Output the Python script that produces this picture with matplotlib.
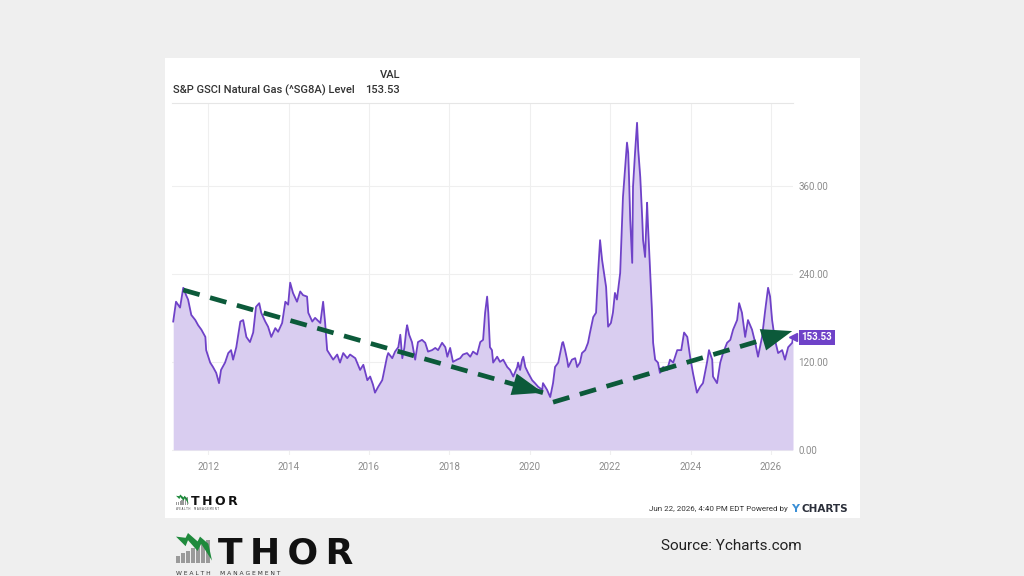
import matplotlib
matplotlib.use("Agg")
import matplotlib.pyplot as plt
from matplotlib.patches import Rectangle, Polygon

plt.rcParams["font.family"] = ["Roboto", "DejaVu Sans"]

# S&P GSCI Natural Gas index level (decimal years)
years = [
    2011.13, 2011.20, 2011.30, 2011.38, 2011.45, 2011.50, 2011.58, 2011.68, 2011.75, 2011.83,
    2011.93, 2011.95, 2012.05, 2012.12, 2012.20, 2012.27, 2012.32, 2012.42, 2012.50, 2012.57,
    2012.62, 2012.70, 2012.80, 2012.87, 2012.95, 2013.04, 2013.12, 2013.19, 2013.27, 2013.32,
    2013.42, 2013.49, 2013.57, 2013.67, 2013.74, 2013.84, 2013.92, 2013.99, 2014.04, 2014.11,
    2014.21, 2014.29, 2014.36, 2014.46, 2014.49, 2014.59, 2014.66, 2014.79, 2014.86, 2014.91,
    2014.96, 2015.03, 2015.11, 2015.21, 2015.28, 2015.36, 2015.46, 2015.53, 2015.66, 2015.78,
    2015.86, 2015.96, 2016.03, 2016.10, 2016.15, 2016.23, 2016.33, 2016.35, 2016.45, 2016.48,
    2016.58, 2016.65, 2016.73, 2016.78, 2016.83, 2016.88, 2016.93, 2016.95, 2017.00, 2017.07,
    2017.15, 2017.22, 2017.32, 2017.40, 2017.47, 2017.57, 2017.65, 2017.72, 2017.82, 2017.90,
    2017.95, 2018.02, 2018.09, 2018.19, 2018.27, 2018.34, 2018.44, 2018.52, 2018.59, 2018.69,
    2018.77, 2018.84, 2018.89, 2018.94, 2018.97, 2019.01, 2019.06, 2019.09, 2019.19, 2019.26,
    2019.34, 2019.44, 2019.51, 2019.59, 2019.69, 2019.71, 2019.76, 2019.81, 2019.84, 2019.89,
    2019.96, 2020.06, 2020.13, 2020.21, 2020.31, 2020.33, 2020.43, 2020.51, 2020.58, 2020.63,
    2020.71, 2020.81, 2020.83, 2020.88, 2020.93, 2020.96, 2021.05, 2021.13, 2021.18, 2021.25,
    2021.30, 2021.38, 2021.45, 2021.50, 2021.58, 2021.65, 2021.70, 2021.75, 2021.80, 2021.85,
    2021.90, 2021.95, 2022.02, 2022.07, 2022.12, 2022.17, 2022.25, 2022.30, 2022.32, 2022.37,
    2022.42, 2022.45, 2022.47, 2022.50, 2022.55, 2022.57, 2022.62, 2022.67, 2022.70, 2022.75,
    2022.80, 2022.82, 2022.87, 2022.92, 2022.94, 2022.99, 2023.04, 2023.07, 2023.12, 2023.19,
    2023.24, 2023.32, 2023.42, 2023.49, 2023.57, 2023.67, 2023.77, 2023.84, 2023.92, 2023.99,
    2024.06, 2024.16, 2024.24, 2024.31, 2024.41, 2024.46, 2024.54, 2024.56, 2024.66, 2024.74,
    2024.81, 2024.91, 2024.99, 2025.06, 2025.16, 2025.21, 2025.28, 2025.36, 2025.43, 2025.53,
    2025.61, 2025.68, 2025.78, 2025.86, 2025.93, 2025.98, 2026.03, 2026.10, 2026.18, 2026.28,
    2026.35, 2026.43, 2026.53, 2026.55,
]
levels = [
    175, 202, 194, 221, 211, 205, 184, 177, 170, 164,
    154, 136, 119, 113, 105, 91, 109, 119, 132, 136,
    123, 140, 175, 177, 154, 147, 160, 195, 200, 187,
    175, 168, 154, 166, 161, 173, 202, 198, 228, 214,
    202, 216, 211, 209, 187, 175, 180, 173, 202, 173,
    136, 130, 123, 130, 119, 132, 125, 130, 125, 109,
    116, 95, 100, 89, 78, 86, 95, 100, 127, 132,
    125, 134, 140, 157, 125, 139, 164, 170, 157, 147,
    123, 147, 150, 146, 134, 136, 139, 136, 146, 140,
    127, 139, 120, 123, 125, 130, 132, 127, 134, 130,
    147, 150, 187, 209, 187, 140, 136, 119, 127, 120,
    123, 113, 109, 100, 113, 119, 109, 123, 127, 113,
    105, 95, 91, 86, 82, 91, 82, 72, 91, 113,
    119, 146, 147, 136, 123, 113, 123, 125, 113, 119,
    132, 136, 146, 160, 181, 187, 241, 286, 259, 241,
    222, 168, 173, 187, 214, 205, 241, 318, 345, 382,
    419, 405, 372, 314, 255, 359, 405, 446, 409, 372,
    314, 286, 263, 337, 309, 250, 191, 146, 123, 119,
    105, 113, 109, 123, 119, 136, 136, 160, 154, 127,
    105, 78, 86, 91, 119, 136, 123, 100, 91, 119,
    132, 146, 150, 164, 177, 200, 187, 154, 177, 164,
    146, 127, 154, 191, 221, 209, 177, 150, 132, 136,
    123, 140, 146, 153.53,
]
last_value = 153.53
tick_years = [2012, 2014, 2016, 2018, 2020, 2022, 2024, 2026]
tick_levels = [0, 120, 240, 360]

# trend arrows drawn on top of the chart (year, level)
trend_down = [(2011.38, 218), (2020.33, 78)]
trend_up = [(2020.58, 65), (2026.53, 162)]

W, H = 1024, 576
def fx(px):
    return px / W
def fy(py):
    return 1 - py / H

purple = "#6f42c8"
fill = "#d9cdf0"
green = "#0c5a3a"
grey_txt = "#8c8c8c"

fig = plt.figure(figsize=(10.24, 5.76), dpi=100, facecolor="#efefef")

# white chart panel (behind the axes)
fig.patches.append(Rectangle((fx(165), fy(518)), fx(860) - fx(165), fy(58) - fy(518),
                             transform=fig.transFigure, facecolor="white", edgecolor="none", zorder=-5))

ax = fig.add_axes([fx(172), fy(455), fx(793) - fx(172), fy(103) - fy(455)])
ax.set_facecolor("white")
ax.fill_between(years, levels, 0, color=fill, lw=0, zorder=2)
ax.plot(years, levels, color=purple, lw=1.3, zorder=3)

ax.set_xlim(2011.10, 2026.55)
ax.set_ylim(-7, 473)
ax.set_xticks(tick_years)
ax.set_xticklabels([str(y) for y in tick_years])
ax.set_yticks(tick_levels)
ax.set_yticklabels([f"{v:.2f}" for v in tick_levels])
ax.yaxis.tick_right()
ax.tick_params(length=0, labelsize=7, colors=grey_txt)
ax.tick_params(axis="y", pad=4)
ax.tick_params(axis="x", pad=5)
ax.grid(color="#efefef", lw=0.8, zorder=1)
for side in ["left", "right", "bottom"]:
    ax.spines[side].set_visible(False)
ax.spines["top"].set_color("#e6e6e6")
ax.spines["top"].set_linewidth(0.8)

# trend arrows
for (x0, y0), (x1, y1) in [trend_down, trend_up]:
    ax.plot([x0, x1], [y0, y1], color=green, lw=3.4, linestyle=(0, (3.6, 2.3)),
            solid_capstyle="butt", zorder=5, clip_on=False)
    ax.annotate("", xy=(x1, y1), xytext=(x0, y0),
                arrowprops=dict(arrowstyle="-|>,head_length=2.2,head_width=0.8",
                                mutation_scale=10, lw=0, fc=green, ec="none",
                                shrinkA=0, shrinkB=0), zorder=6)

# last value tag
ax.plot([2026.55], [last_value], marker="<", ms=6, color=purple, clip_on=False, zorder=7)
ax.annotate(f"{last_value:.2f}", xy=(1, last_value), xycoords=("axes fraction", "data"),
            xytext=(6, 0), textcoords="offset points", va="center", ha="left",
            fontsize=7, fontweight="bold", color="white", zorder=8,
            bbox=dict(boxstyle="square,pad=0.25", fc=purple, ec="none"))

# header
fig.text(fx(173), fy(90), "S&P GSCI Natural Gas (^SG8A) Level", fontsize=8, color="#333333",
         ha="left", va="center", fontweight="medium")
fig.text(fx(400), fy(75), "VAL", fontsize=8, color="#333333", ha="right", va="center", fontweight="medium")
fig.text(fx(400), fy(90), f"{last_value:.2f}", fontsize=8, color="#333333", ha="right", va="center",
         fontweight="medium")

# footer inside panel
fig.text(fx(788), fy(509), "Jun 22, 2026, 4:40 PM EDT Powered by", fontsize=5.8, color="#333333",
         ha="right", va="center")
fig.text(fx(791), fy(509), "Y", fontsize=8, color="#3a8fd6", ha="left", va="center",
         fontweight="bold", family="DejaVu Sans")
fig.text(fx(802), fy(509), "CHARTS", fontsize=7.5, color="#2b2f3a", ha="left", va="center",
         fontweight="bold", family="DejaVu Sans")


def logo(x0, y0, scale, text_size, sub_size, sub_y):
    # grey bars with a green zigzag, then the word mark
    bar_w = 3.0 * scale
    for i in range(7):
        h = (6 + 2.2 * i) * scale
        fig.patches.append(Rectangle((fx(x0 + i * (bar_w + 1.2 * scale)), fy(y0)), bar_w / W, h / H,
                                     transform=fig.transFigure, fc="#9a9a9a", ec="none"))
    pts = [(0, 12), (8, 4), (10, 9), (18, 0), (21, 6), (30, -8), (27, 6), (20, 12), (18, 8), (10, 15), (8, 11)]
    poly = [(fx(x0 + px * scale), fy(y0 - 10 * scale - py * scale)) for px, py in pts]
    fig.patches.append(Polygon(poly, closed=True, transform=fig.transFigure, fc="#1f8a3c", ec="none"))
    fig.text(fx(x0 + 35 * scale), fy(y0), "T\u2009H\u2009O\u2009R", fontsize=text_size, fontweight="heavy",
             color="#111111", ha="left", va="baseline", family="DejaVu Sans")
    fig.text(fx(x0), fy(sub_y), "W E A L T H     M A N A G E M E N T", fontsize=sub_size,
             color="#333333", ha="left", va="bottom", family="DejaVu Sans")


logo(176, 505, 0.42, 9, 1.8, 511)
logo(176, 563, 1.2, 26, 4.3, 576)

fig.text(fx(731), fy(546), "Source: Ycharts.com", fontsize=11, color="#222222", ha="center", va="center")

fig.savefig("out.png", dpi=100, facecolor=fig.get_facecolor())
